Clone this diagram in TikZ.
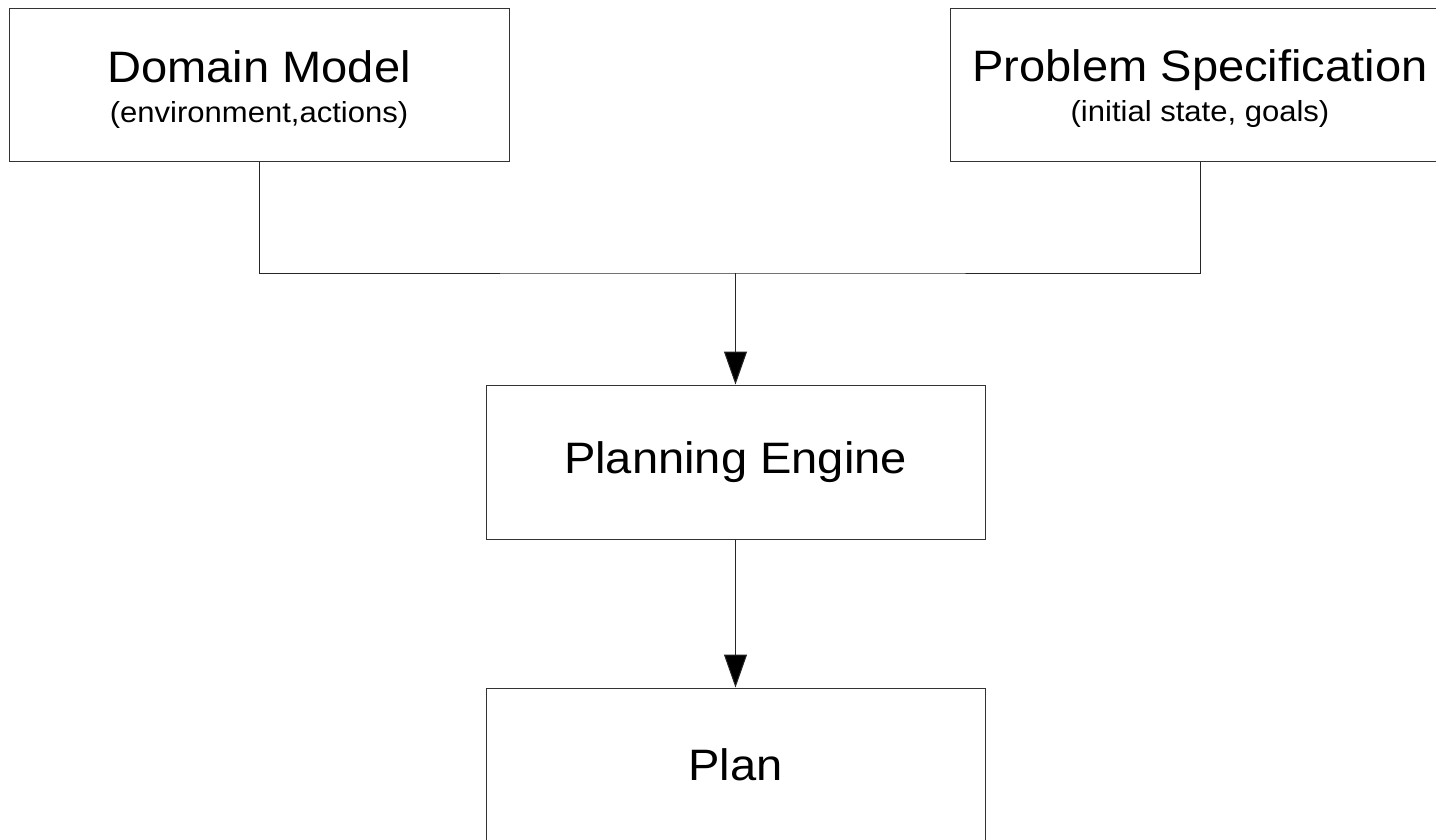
\documentclass[tikz,border=0pt]{standalone}
\usepackage{fontspec}
\setmainfont[FakeStretch=1.07]{Liberation Sans}
\usetikzlibrary{arrows.meta}
\begin{document}
\begin{tikzpicture}[x=1pt,y=-1pt,
  box/.style={draw=black!80, line width=1pt, minimum width=500pt, minimum height=153pt,
    inner sep=0pt, align=center, font=\fontsize{44}{50}\selectfont},
  conn/.style={draw=black!85, line width=1pt},
  arr/.style={conn, -{Triangle[length=33pt,width=23pt,fill=black]}}]
\useasboundingbox (0,0) rectangle (1436,839);
\newcommand{\subtxt}[1]{\fontsize{29}{37}\selectfont #1}
\newcommand{\toppad}{\rule{0pt}{41pt}}
\node[box] (dm) at (259,84.5) {\toppad Domain Model\\[-10pt]\subtxt{(environment,actions)}};
\node[box] (ps) at (1200,84.5) {\toppad Problem Specification\\[-10pt]\subtxt{(initial state, goals)}};
\node[box, minimum width=499pt, minimum height=154pt] (pe) at (735.5,462) {Planning Engine};
\node[box, minimum width=499pt] (pl) at (735.5,764.5) {Plan};
\coordinate (j) at (735.5,273);
\draw[conn] (dm.south) |- (j) -| (ps.south);
\draw[arr] (j) -- (pe.north);
\draw[arr] (pe.south) -- (pl.north);
\end{tikzpicture}
\end{document}
